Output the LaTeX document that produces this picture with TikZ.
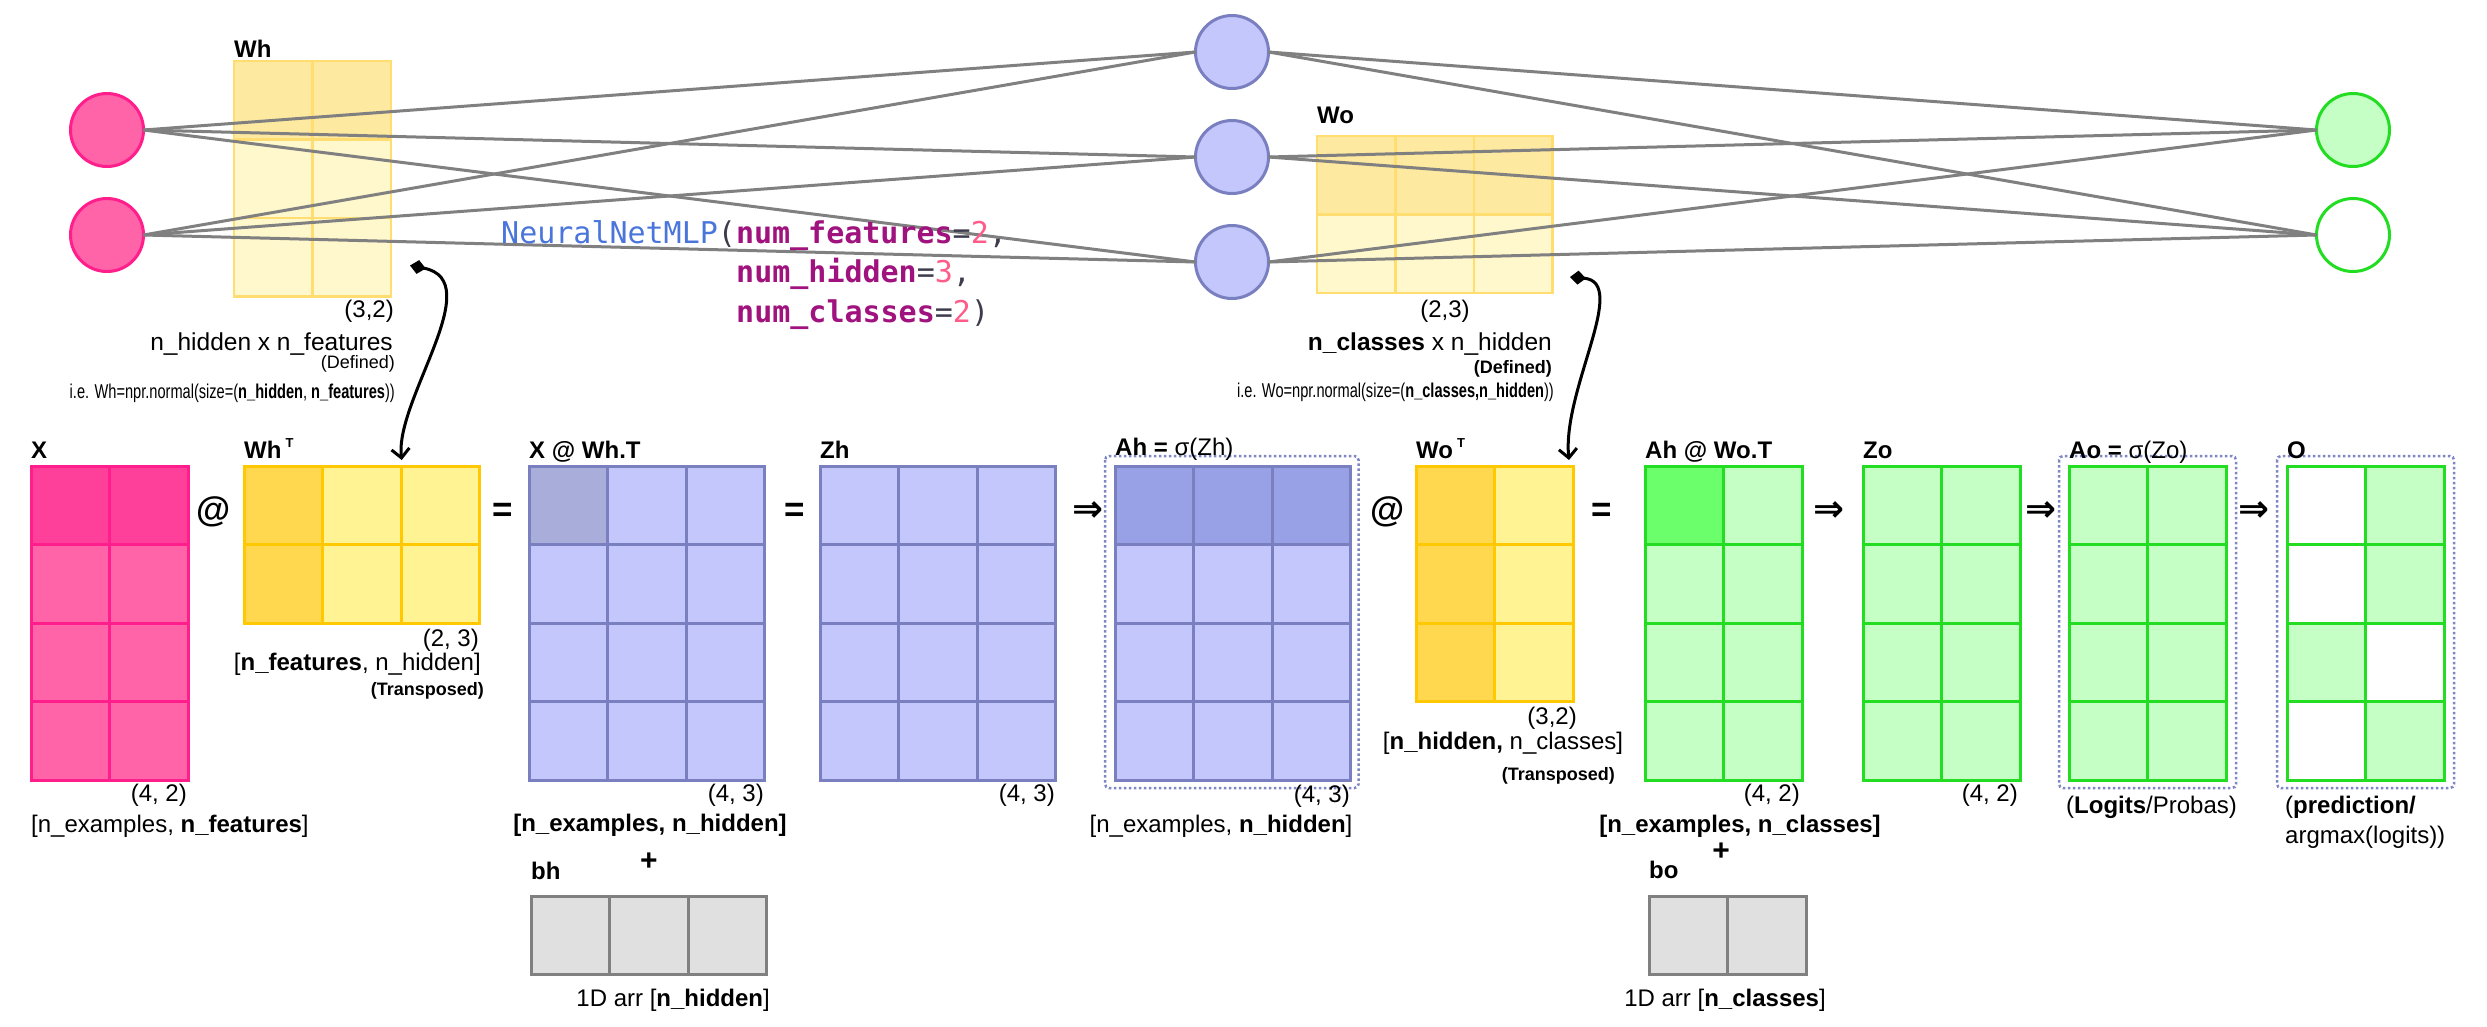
\documentclass[tikz,border=0pt]{standalone}
\usepackage{fontspec}
\usepackage{graphicx}
\setmainfont{Liberation Sans}
\newfontfamily\codefont{DejaVu Sans Mono}
\newfontfamily\symfont{DejaVu Sans}
\usetikzlibrary{arrows.meta}

\definecolor{pinkF}{HTML}{FF63A8}
\definecolor{pinkD}{HTML}{FF409A}
\definecolor{pinkB}{HTML}{FF1E8C}
\definecolor{yelF}{HTML}{FFF394}
\definecolor{yelD}{HTML}{FFD84F}
\definecolor{yelB}{HTML}{FFC800}
\definecolor{topF}{HTML}{FFF8CC}
\definecolor{topD}{HTML}{FEE9A0}
\definecolor{topB}{HTML}{FFDD70}
\definecolor{bluF}{HTML}{C3C7FB}
\definecolor{bluD}{HTML}{A9ADD9}
\definecolor{bluA}{HTML}{99A1E6}
\definecolor{bluB}{HTML}{7A80BF}
\definecolor{grnF}{HTML}{C5FFC5}
\definecolor{grnD}{HTML}{6CFF6C}
\definecolor{grnB}{HTML}{22DD22}
\definecolor{gryF}{HTML}{E0E0E0}
\definecolor{gryB}{HTML}{808080}
\definecolor{netc}{HTML}{808080}
\definecolor{dotc}{HTML}{7F86C4}
\definecolor{cblue}{HTML}{4A76DC}
\definecolor{cpurp}{HTML}{A0137E}
\definecolor{cpink}{HTML}{FF5C8A}
\definecolor{cdark}{HTML}{3C3C4C}

% name, x, y, cols, rows, fill, border, line width, overlay cells
\newcommand{\mymat}[9]{%
  \node[matbox, fill=#6, minimum width=#4*78.5pt, minimum height=#5*78.5pt] (#1) at (#2,#3) {};
  \foreach \ci/\cj/\cc in {#9} {\fill[\cc] ({#2+\ci*78.5},{#3+\cj*78.5}) rectangle ++(78.5,78.5);}
  \pgfmathtruncatemacro\cmax{#4-1}%
  \pgfmathtruncatemacro\rmax{#5-1}%
  \foreach \ci in {0,...,\cmax} {\foreach \cj in {0,...,\rmax} {\draw[#7, line width=#8] ({#2+\ci*78.5},{#3+\cj*78.5}) rectangle ++(78.5,78.5);}}
}

\begin{document}
\begin{tikzpicture}[x=1pt,y=-1pt,
  matbox/.style={rectangle, inner sep=0, outer sep=0, anchor=north west, draw=none},
  neuron/.style={circle, minimum size=73pt, inner sep=0, outer sep=0, line width=3pt},
  net/.style={draw=netc, line width=3pt},
  t/.style={inner sep=0, font=\fontsize{24}{28}\selectfont},
  sm/.style={inner sep=0, font=\fontsize{18}{20}\selectfont},
  lab/.style={inner sep=0, anchor=base west, font=\fontsize{24}{28}\selectfont\bfseries},
  op/.style={inner sep=0, font=\fontsize{35}{40}\selectfont\bfseries},
  dop/.style={inner sep=0, font={\symfont\bfseries\fontsize{37}{40}\selectfont}},
  code/.style={inner sep=0, anchor=base west, font={\codefont\fontsize{30}{36}\selectfont}},
  dotbox/.style={draw=dotc, line width=2.5pt, dash pattern=on 2.5pt off 2.5pt, rounded corners=4pt},
  conn/.style={draw=black, line width=3pt, {Diamond[length=16pt,width=14pt]}-{Straight Barb[length=9pt,width=18pt]}}
]
\useasboundingbox (0,0) rectangle (2487,1026);
\fill[white] (0,0) rectangle (2487,1026);

% ---------- top weight matrices ----------
\mymat{Wh}{234}{61}{2}{3}{topF}{topB}{2.5pt}{0/0/topD,1/0/topD}
\mymat{Wo}{1317}{136}{3}{2}{topF}{topB}{2.5pt}{0/0/topD,1/0/topD,2/0/topD}

% ---------- network ----------
\node[neuron, draw=pinkB, fill=pinkF] (i1) at (107,130) {};
\node[neuron, draw=pinkB, fill=pinkF] (i2) at (107,235) {};
\node[neuron, draw=bluB, fill=bluF] (h1) at (1232,52) {};
\node[neuron, draw=bluB, fill=bluF] (h2) at (1232,157) {};
\node[neuron, draw=bluB, fill=bluF] (h3) at (1232,262) {};
\node[neuron, draw=grnB, fill=grnF] (o1) at (2353,130) {};
\node[neuron, draw=grnB, fill=white] (o2) at (2353,235) {};
\foreach \a in {i1,i2} \foreach \b in {h1,h2,h3} \draw[net] (\a.east) -- (\b.west);
\foreach \a in {h1,h2,h3} \foreach \b in {o1,o2} \draw[net] (\a.east) -- (\b.west);

% ---------- top labels ----------
\node[lab] (whl) at (234,57) {Wh};
\node[lab] (wol) at (1317,123) {Wo};
\node[t, anchor=base east] (whs) at (394,317) {(3,2)};
\node[t, anchor=base east, font=\fontsize{24.5}{28}\selectfont] (whd) at (393,350) {n\_hidden x n\_features};
\node[sm, anchor=base east] (whdef) at (395,368) {(Defined)};
\node[t, anchor=base east] (whie) at (395,398) {\scalebox{0.73}[1]{\fontsize{20}{22}\selectfont i.e. Wh=npr.normal(size=(\textbf{n\_hidden}, \textbf{n\_features}))}};
\node[t, anchor=base] (wos) at (1445,317) {(2,3)};
\node[t, anchor=base east, font=\fontsize{24.5}{28}\selectfont] (wod) at (1552,350) {\textbf{n\_classes} x n\_hidden};
\node[sm, anchor=base east, font=\fontsize{18}{20}\selectfont\bfseries] (wodef) at (1552,373) {(Defined)};
\node[t, anchor=base east] (woie) at (1554,397) {\scalebox{0.73}[1]{\fontsize{20}{22}\selectfont i.e. Wo=npr.normal(size=(\textbf{n\_classes,n\_hidden}))}};

% ---------- code ----------
\node[code] (c1) at (501,243) {\textcolor{cblue}{NeuralNetMLP}\textcolor{cdark}{(}\textcolor{cpurp}{\bfseries num\_features}\textcolor{cdark}{=}\textcolor{cpink}{2}\textcolor{cdark}{,}};
\node[code] (c2) at (736,282) {\textcolor{cpurp}{\bfseries num\_hidden}\textcolor{cdark}{=}\textcolor{cpink}{3}\textcolor{cdark}{,}};
\node[code] (c3) at (736,322) {\textcolor{cpurp}{\bfseries num\_classes}\textcolor{cdark}{=}\textcolor{cpink}{2}\textcolor{cdark}{)}};

% ---------- bottom matrices ----------
\mymat{X}{31}{466}{2}{4}{pinkF}{pinkB}{3pt}{0/0/pinkD,1/0/pinkD}
\mymat{WhT}{244}{466}{3}{2}{yelF}{yelB}{3pt}{0/0/yelD,0/1/yelD}
\mymat{XWhT}{529}{466}{3}{4}{bluF}{bluB}{3pt}{0/0/bluD}
\mymat{Zh}{820}{466}{3}{4}{bluF}{bluB}{3pt}{0/0/bluF}
\mymat{Ah}{1115}{466}{3}{4}{bluF}{bluB}{3pt}{0/0/bluA,1/0/bluA,2/0/bluA}
\mymat{WoT}{1416}{466}{2}{3}{yelF}{yelB}{3pt}{0/0/yelD,0/1/yelD,0/2/yelD}
\mymat{AhWoT}{1645}{466}{2}{4}{grnF}{grnB}{3pt}{0/0/grnD}
\mymat{Zo}{1863}{466}{2}{4}{grnF}{grnB}{3pt}{0/0/grnF}
\mymat{Ao}{2069}{466}{2}{4}{grnF}{grnB}{3pt}{0/0/grnF}
\mymat{O}{2287}{466}{2}{4}{grnF}{grnB}{3pt}{0/0/white,0/1/white,1/2/white,0/3/white}
\mymat{bh}{531}{896}{3}{1}{gryF}{gryB}{3pt}{0/0/gryF}
\mymat{bo}{1649}{896}{2}{1}{gryF}{gryB}{3pt}{0/0/gryF}

\draw[dotbox] ([shift={(-10pt,10pt)}]Ah.north west) rectangle ([shift={(8pt,-8pt)}]Ah.south east);
\draw[dotbox] ([shift={(-10pt,10pt)}]Ao.north west) rectangle ([shift={(10pt,-8pt)}]Ao.south east);
\draw[dotbox] ([shift={(-10pt,10pt)}]O.north west) rectangle ([shift={(10pt,-8pt)}]O.south east);

% ---------- matrix titles ----------
\node[lab] (lX) at (31,458) {X};
\node[lab] (lWhT) at (244,458) {Wh\,\raisebox{0.45em}{\fontsize{13}{13}\selectfont T}};
\node[lab] (lXWhT) at (529,458) {X @ Wh.T};
\node[lab] (lZh) at (820,458) {Zh};
\node[lab] (lAh) at (1115,455) {Ah = \mdseries σ(Zh)};
\node[lab] (lWoT) at (1416,458) {Wo\,\raisebox{0.45em}{\fontsize{13}{13}\selectfont T}};
\node[lab] (lAhWoT) at (1645,458) {Ah @ Wo.T};
\node[lab] (lZo) at (1863,458) {Zo};
\node[lab] (lAo) at (2069,458) {Ao = \mdseries σ(Zo)};
\node[lab] (lO) at (2287,458) {O};

% ---------- operators ----------
\node[op] (op1) at (214,512) {@};
\node[op] (op2) at (503,512) {=};
\node[op] (op3) at (795,512) {=};
\node[dop] (op4) at (1088,512) {⇒};
\node[op] (op5) at (1388,512) {@};
\node[op] (op6) at (1602,512) {=};
\node[dop] (op7) at (1829,512) {⇒};
\node[dop] (op8) at (2041,512) {⇒};
\node[dop] (op9) at (2254,512) {⇒};

% ---------- sub labels ----------
\node[t, anchor=base east] (sX) at (187,801) {(4, 2)};
\node[t, anchor=base west] (dX) at (31,832) {[n\_examples, \textbf{n\_features}]};
\node[t, anchor=base east] (sWhT) at (479,646) {(2, 3)};
\node[t, anchor=base east] (dWhT) at (481,670) {[\textbf{n\_features}, n\_hidden]};
\node[sm, anchor=base east, font=\fontsize{18}{20}\selectfont\bfseries] (trWhT) at (484,695) {(Transposed)};
\node[t, anchor=base east] (sXWhT) at (764,801) {(4, 3)};
\node[t, anchor=base, font=\fontsize{24}{28}\selectfont\bfseries] (dXWhT) at (650,831) {[n\_examples, n\_hidden]};
\node[lab] (lbh) at (531,879) {bh};
\node[op, font=\fontsize{30}{32}\selectfont\bfseries] (plus1) at (649,862) {+};
\node[t, anchor=base east] (dbh) at (770,1006) {1D arr [\textbf{n\_hidden}]};
\node[t, anchor=base east] (sZh) at (1055,801) {(4, 3)};
\node[t, anchor=base east] (sAh) at (1350,802) {(4, 3)};
\node[t, anchor=base] (dAh) at (1221,832) {[n\_examples, \textbf{n\_hidden}]};
\node[t, anchor=base east] (sWoT) at (1577,724) {(3,2)};
\node[t, anchor=base] (dWoT) at (1503,749) {[\textbf{n\_hidden,} n\_classes]};
\node[sm, anchor=base east, font=\fontsize{18}{20}\selectfont\bfseries] (trWoT) at (1615,780) {(Transposed)};
\node[t, anchor=base east] (sAhWoT) at (1800,801) {(4, 2)};
\node[t, anchor=base, font=\fontsize{24}{28}\selectfont\bfseries] (dAhWoT) at (1740,832) {[n\_examples, n\_classes]};
\node[op, font=\fontsize{30}{32}\selectfont\bfseries] (plus2) at (1721,852) {+};
\node[lab] (lbo) at (1649,878) {bo};
\node[t, anchor=base] (dbo) at (1725,1006) {1D arr [\textbf{n\_classes}]};
\node[t, anchor=base east] (sZo) at (2018,801) {(4, 2)};
\node[t, anchor=base west] (dAo) at (2066,813) {(\textbf{Logits}/Probas)};
\node[t, anchor=base west] (dO1) at (2285,813) {(\textbf{prediction/}};
\node[t, anchor=base west] (dO2) at (2285,843) {argmax(logits))};

% ---------- connectors ----------
\draw[conn] ([shift={(19pt,31pt)}]Wh.south east) .. controls +(79,15) and +(-7,-60) .. ([shift={(40pt,6pt)}]WhT.north);
\draw[conn] ([shift={(17.5pt,16pt)}]Wo.south east) .. controls +(60,5) and +(-7,-70) .. ([shift={(74.5pt,6pt)}]WoT.north);
\end{tikzpicture}
\end{document}
